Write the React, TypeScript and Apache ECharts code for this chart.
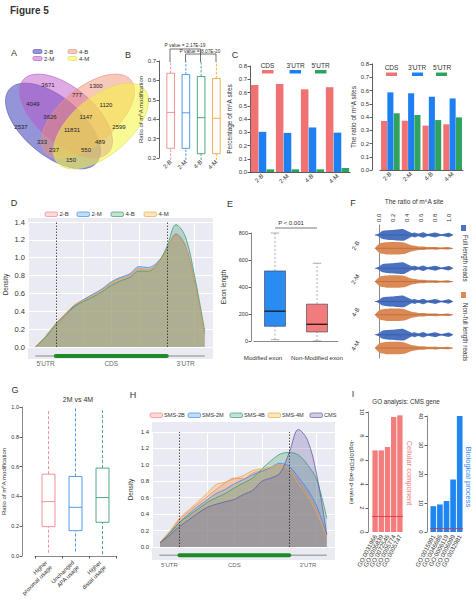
import React, { useEffect, useRef } from 'react';
import * as echarts from 'echarts';

const FONT = "'Liberation Sans', Arial, Helvetica, sans-serif";
const INK = '#333333';

/* ======================= DATA ======================= */
// A — Venn diagram of m6A sites
const vennSets = ['2-B', '2-M', '4-B', '4-M'];
// region order: 2B only, 2M only, 4B only, 4M only, 2B∩2M, 2M∩4B, 4B∩4M, 2B∩4M, 2B∩4B, 2M∩4M,
// 2B∩2M∩4B, 2M∩4B∩4M, 2B∩4B∩4M, 2B∩2M∩4M, all four
const vennCounts = [2537, 3671, 1300, 2599, 4049, 777, 1120, 150, 333, 489, 3626, 1147, 237, 550, 11831];

// B — ratio of m6A modification (min, Q1, median, Q3, max)
const sampleNames = ['2-B', '2-M', '4-B', '4-M'];
const ratio2B = [0.19, 0.25, 0.435, 0.637, 0.7];
const ratio2M = [0.19, 0.25, 0.433, 0.63, 0.7];
const ratio4B = [0.19, 0.222, 0.408, 0.62, 0.7];
const ratio4M = [0.19, 0.222, 0.405, 0.61, 0.7];
const pValueLabels = ['P value = 2.17E-19', 'P value = 8.07E-20'];

// C — region distribution
const regionNames = ['CDS', "3'UTR", "5'UTR"];
const pctCDS = [0.657, 0.664, 0.624, 0.64];
const pct3UTR = [0.303, 0.295, 0.336, 0.297];
const pct5UTR = [0.02, 0.02, 0.02, 0.03];
const ratioCDS = [0.37, 0.372, 0.335, 0.345];
const ratio3UTR = [0.586, 0.579, 0.553, 0.54];
const ratio5UTR = [0.428, 0.415, 0.377, 0.397];

// D — metagene density
const metaX = [4, 10, 15, 20, 25, 30, 35, 40, 45, 50, 55, 60, 65, 70, 75, 80, 85, 90, 95.5];
const dens2B = [0.0, 0.13, 0.26, 0.37, 0.47, 0.53, 0.585, 0.64, 0.72, 0.77, 0.81, 0.88, 0.87, 0.94, 1.09, 1.27, 1.14, 0.74, 0.15];
const dens2M = [0.0, 0.13, 0.26, 0.36, 0.46, 0.53, 0.59, 0.65, 0.73, 0.78, 0.82, 0.9, 0.89, 0.95, 1.09, 1.26, 1.13, 0.73, 0.15];
const dens4B = [0.0, 0.12, 0.25, 0.35, 0.45, 0.51, 0.56, 0.62, 0.69, 0.74, 0.78, 0.85, 0.85, 0.93, 1.12, 1.37, 1.24, 0.8, 0.18];
const dens4M = [0.0, 0.13, 0.26, 0.36, 0.47, 0.52, 0.575, 0.63, 0.71, 0.76, 0.8, 0.87, 0.86, 0.93, 1.08, 1.25, 1.12, 0.72, 0.15];
const geneModel = [4, 15, 75, 95.5]; // tx start, CDS start, CDS end, tx end
const geneRegions = ["5'UTR", 'CDS', "3'UTR"];
const densityTicks = [0, 1.4, 0.2];

// E — exon length (min, Q1, median, Q3, max)
const exonGroups = ['Modified exon', 'Non-Modified exon'];
const exonModified = [10, 109, 221, 519, 800];
const exonNonModified = [0, 67, 124, 273, 576];

// F — violin of m6A site ratio
const violinGroups = ['2-B', '2-M', '4-B', '4-M'];
const readTypes = ['Full length reads', 'Non-full length reads'];
const violinGrid = [-0.06, -0.01, 0.04, 0.11, 0.18, 0.27, 0.35, 0.42, 0.47, 0.51, 0.56, 0.63, 0.7, 0.8, 0.89, 1.0, 1.06];
const fullReadsDensity = [0, 0.2, 0.6, 0.74, 0.8, 0.88, 0.92, 0.55, 0.3, 0.4, 0.22, 0.45, 0.17, 0.38, 0.12, 0.34, 0];
const nonFullReadsDensity = [0, 0.6, 0.88, 0.97, 1.0, 1.0, 0.92, 0.65, 0.47, 0.38, 0.3, 0.28, 0.2, 0.22, 0.14, 0.18, 0];

// G — APA usage (min, Q1, median, Q3, max)
const apaGroups = ['Higher\nproximal usage', 'Unchanged\nAPA usage', 'Higher\ndistal usage'];
const apaProximal = [0.022, 0.197, 0.365, 0.549, 0.978];
const apaUnchanged = [0.03, 0.17, 0.327, 0.534, 0.993];
const apaDistal = [0.013, 0.226, 0.392, 0.59, 0.978];

// H — SMS / CMS density
const hNames = ['SMS-2B', 'SMS-2M', 'SMS-4B', 'SMS-4M', 'CMS'];
const hX = [4.4, 10, 15, 20, 25, 30, 35, 40, 45, 50, 55, 60, 65, 70, 75, 80, 85, 90, 95.5];
const densSMS2B = [0.06, 0.19, 0.33, 0.43, 0.52, 0.61, 0.7, 0.78, 0.84, 0.83, 0.9, 0.93, 0.96, 1.0, 0.96, 0.82, 0.66, 0.45, 0.12];
const densSMS2M = [0.05, 0.18, 0.3, 0.4, 0.49, 0.57, 0.65, 0.7, 0.77, 0.82, 0.88, 0.92, 0.97, 1.02, 0.98, 0.85, 0.7, 0.5, 0.15];
const densSMS4B = [0.05, 0.17, 0.3, 0.38, 0.46, 0.54, 0.6, 0.65, 0.72, 0.78, 0.84, 0.95, 1.05, 1.13, 1.15, 1.12, 1.0, 0.82, 0.35];
const densSMS4M = [0.06, 0.2, 0.35, 0.45, 0.55, 0.65, 0.76, 0.79, 0.83, 0.87, 0.93, 0.95, 0.97, 0.99, 0.94, 0.77, 0.62, 0.42, 0.12];
const densCMS = [0.05, 0.15, 0.25, 0.33, 0.41, 0.48, 0.52, 0.55, 0.58, 0.64, 0.69, 0.8, 0.84, 0.9, 1.15, 1.43, 1.3, 0.88, 0.15];

// I — GO analysis
const ccTerms = ['GO:0031966', 'GO:0005839', 'GO:0072546', 'GO:0005774', 'GO:0005747'];
const ccValues = [6.8, 6.8, 7.08, 9.58, 9.72];
const bpTerms = ['GO:0015991', 'GO:0046686', 'GO:0006119', 'GO:0006099', 'GO:0032981'];
const bpValues = [8.9, 9.5, 10.7, 18.1, 40.0];
const pThreshold = 1.3;

/* ======================= STYLE / LAYOUT ======================= */
const C_PINK = '#ee868b';
const C_BLUE = '#3d8ee6';
const C_GREEN = '#3a9e6e';
const C_ORANGE = '#efa93c';
const C_PURPLE = '#6a5aa8';
const REGION_COLORS = ['#f07272', '#1c7ff2', '#2ea25f'];
const VENN_FILL = ['rgba(50,50,180,0.52)', 'rgba(185,80,200,0.48)', 'rgba(240,140,110,0.48)', 'rgba(245,245,60,0.55)'];
const VENN_STROKE = ['#6060b8', '#b868c4', '#e49a88', '#dcdc70'];
const VENN_SHAPES = [
  { cx: 53, cy: 126, rx: 57, ry: 29, rot: -40 },
  { cx: 66, cy: 116, rx: 56, ry: 28, rot: -40 },
  { cx: 88, cy: 116, rx: 56, ry: 28, rot: 40 },
  { cx: 101, cy: 126, rx: 57, ry: 29, rot: 40 },
];
const VENN_LABEL_POS = [
  [21, 127], [48, 85], [96, 86], [119, 127], [33, 104], [77, 95], [106, 105], [71, 160],
  [42, 142], [100, 142], [50, 117], [86, 117], [54, 150], [86, 150], [72, 130],
];

const G = [
  { left: 163, top: 61, width: 61, height: 97 }, // 0 B
  { left: 250, top: 66, width: 100, height: 106 }, // 1 C left
  { left: 380, top: 64, width: 83, height: 106 }, // 2 C right
  { left: 28, top: 218, width: 185, height: 141 }, // 3 D bg
  { left: 28, top: 222, width: 185, height: 125 }, // 4 D curves
  { left: 254, top: 233, width: 84, height: 108 }, // 5 E
  { left: 379, top: 225, width: 70, height: 133 }, // 6 F
  { left: 35, top: 407, width: 81, height: 149 }, // 7 G
  { left: 152, top: 422, width: 183, height: 138 }, // 8 H bg
  { left: 152, top: 432, width: 183, height: 115 }, // 9 H curves
  { left: 372, top: 412, width: 31, height: 120 }, // 10 I left
  { left: 430, top: 416, width: 33, height: 116 }, // 11 I right
];

const axLine = { show: true, lineStyle: { color: INK, width: 0.8 } };
const axTick = { show: true, length: 2.5, lineStyle: { color: INK, width: 0.8 } };
const noSplit = { show: false };
const lbl = (fs: number, extra: any = {}) => ({ fontSize: fs, color: INK, fontFamily: FONT, margin: 3, ...extra });
const nameStyle = (fs: number) => ({ fontSize: fs, color: INK, fontFamily: FONT });

function txt(x: number, y: number, text: string, fs: number, extra: any = {}, rotation = 0): any {
  return {
    type: 'text', x, y, rotation, silent: true,
    style: {
      text, fontSize: fs, fontFamily: FONT, fill: INK,
      align: 'center', verticalAlign: 'middle', textAlign: 'center', textVerticalAlign: 'middle', ...extra,
    },
  };
}
function seg(x1: number, y1: number, x2: number, y2: number, stroke = INK, lw = 0.7): any {
  return { type: 'line', silent: true, shape: { x1, y1, x2, y2 }, style: { stroke, lineWidth: lw } };
}
function box(x: number, y: number, w: number, h: number, fill: string, stroke?: string, r = 0): any {
  return { type: 'rect', silent: true, shape: { x, y, width: w, height: h, r }, style: { fill, stroke: stroke || 'none', lineWidth: 0.7 } };
}
function hexA(hex: string, a: number) {
  const n = parseInt(hex.slice(1), 16);
  return `rgba(${(n >> 16) & 255},${(n >> 8) & 255},${n & 255},${a})`;
}

function boxSeries(ai: number, stats: number[][], cfg: any): any {
  return {
    type: 'custom', xAxisIndex: ai, yAxisIndex: ai, clip: false, silent: true,
    encode: { x: 0, y: [1, 2, 3, 4, 5] },
    data: stats.map((s, i) => [i, ...s]),
    renderItem: (_p: any, api: any) => {
      const i = api.value(0);
      const v = [1, 2, 3, 4, 5].map((k) => api.value(k));
      const cx = api.coord([i, v[2]])[0];
      const y = v.map((val) => api.coord([i, val])[1]);
      const w = api.size([1, 0])[0] * cfg.width;
      const col = cfg.colors[i];
      const wc = cfg.whisker || col;
      const ws = { stroke: wc, lineWidth: cfg.lw, lineDash: cfg.dash };
      const ch: any[] = [
        { type: 'line', shape: { x1: cx, y1: y[0], x2: cx, y2: y[1] }, style: ws },
        { type: 'line', shape: { x1: cx, y1: y[3], x2: cx, y2: y[4] }, style: ws },
        { type: 'rect', shape: { x: cx - w / 2, y: y[3], width: w, height: y[1] - y[3] }, style: { fill: cfg.fills ? cfg.fills[i] : '#fff', stroke: cfg.stroke || col, lineWidth: cfg.lw } },
        { type: 'line', shape: { x1: cx - w / 2, y1: y[2], x2: cx + w / 2, y2: y[2] }, style: { stroke: cfg.median || col, lineWidth: cfg.mw } },
      ];
      if (cfg.cap) {
        const cw = w * cfg.cap;
        ch.push({ type: 'line', shape: { x1: cx - cw / 2, y1: y[0], x2: cx + cw / 2, y2: y[0] }, style: { stroke: wc, lineWidth: cfg.lw } });
        ch.push({ type: 'line', shape: { x1: cx - cw / 2, y1: y[4], x2: cx + cw / 2, y2: y[4] }, style: { stroke: wc, lineWidth: cfg.lw } });
      }
      return { type: 'group', children: ch };
    },
  };
}

function densitySeries(ai: number, xs: number[], names: string[], ys: number[][], cols: string[], alpha: number): any[] {
  return names.map((name, k) => ({
    type: 'line', name, xAxisIndex: ai, yAxisIndex: ai, clip: false, silent: true,
    data: xs.map((x, i) => [x, ys[k][i]]),
    smooth: 0.35, symbol: 'none', showSymbol: false,
    lineStyle: { color: cols[k], width: 0.8 },
    areaStyle: { color: cols[k], opacity: alpha },
    markLine: k === 0 ? {
      symbol: 'none', silent: true, label: { show: false },
      lineStyle: { color: '#222', width: 0.8, type: [1.5, 1.5] },
      data: [{ xAxis: geneModel[1] }, { xAxis: geneModel[2] }],
    } : undefined,
  }));
}

function geneSeries(ai: number, barY: number, labelY: number, fs: number): any[] {
  return [
    { type: 'line', xAxisIndex: ai, yAxisIndex: ai, clip: false, silent: true, symbol: 'none',
      data: [[geneModel[0], barY], [geneModel[3], barY]], lineStyle: { color: '#a9a9a9', width: 1.6 } },
    { type: 'line', xAxisIndex: ai, yAxisIndex: ai, clip: false, silent: true, symbol: 'none',
      data: [[geneModel[1], barY], [geneModel[2], barY]], lineStyle: { color: '#1f8a2a', width: 4, cap: 'round' } },
    { type: 'scatter', xAxisIndex: ai, yAxisIndex: ai, clip: false, silent: true, symbolSize: 1,
      itemStyle: { color: 'transparent' },
      label: { show: true, position: 'inside', formatter: '{b}', fontSize: fs, color: INK, fontFamily: FONT },
      data: geneRegions.map((n, i) => ({ name: n, value: [(geneModel[i] + geneModel[i + 1]) / 2, labelY] })) },
  ];
}

function densityAxes(ai: number, fs: number, nameGap: number) {
  const x = {
    type: 'value', gridIndex: ai, min: 0, max: 100, interval: 15,
    axisLine: { show: false }, axisTick: { show: false }, axisLabel: { show: false },
    splitLine: { show: true, lineStyle: { color: '#ffffff', width: 1 } },
  };
  const y = {
    type: 'value', gridIndex: ai, min: densityTicks[0], max: densityTicks[1], interval: densityTicks[2],
    axisLine: { show: false }, axisTick: { show: false },
    axisLabel: lbl(fs, { margin: 3, formatter: (v: number) => v.toFixed(1) }),
    splitLine: { show: true, lineStyle: { color: '#ffffff', width: 1 } },
    name: 'Density', nameLocation: 'middle', nameGap, nameTextStyle: nameStyle(6.5),
  };
  return { x, y };
}

function hiddenAxes(ai: number) {
  return {
    x: { type: 'value', gridIndex: ai, min: 0, max: 1, show: false },
    y: { type: 'value', gridIndex: ai, min: 0, max: 1, show: false },
  };
}

function buildOption(): any {
  const grids = G.map((g, i) => ({
    ...g, containLabel: false, outerBoundsMode: 'none',
    show: i === 3 || i === 8, backgroundColor: '#eaeaf2', borderWidth: 0,
  }));

  const catX = (ai: number, data: any[], extra: any = {}) => ({
    type: 'category', gridIndex: ai, data,
    axisLine: { show: false }, axisTick: { show: false }, splitLine: noSplit,
    axisLabel: lbl(6, { interval: 0, rotate: 45 }), ...extra,
  });

  const dAx = densityAxes(4, 7.5, 19);
  const hAx = densityAxes(9, 6, 18);
  const dBg = hiddenAxes(3);
  const hBg = hiddenAxes(8);

  const exonLabelData = exonGroups.map((g, i) => (i === 0 ? { value: g, textStyle: { padding: [0, 24, 0, 0] } } : { value: g, textStyle: { padding: [0, 0, 0, 0] } }));

  const xAxis: any[] = [
    catX(0, sampleNames),
    catX(1, sampleNames, { axisLine: axLine }),
    catX(2, sampleNames, { axisLine: axLine }),
    dBg.x,
    dAx.x,
    catX(5, exonLabelData, { axisLine: { ...axLine, lineStyle: { color: '#555', width: 0.7 } }, offset: 7, axisTick: { show: false }, axisLabel: lbl(6.2, { interval: 0, margin: 6 }) }),
    { type: 'value', gridIndex: 6, position: 'top', min: 0, max: 1, interval: 0.2,
      axisLine: { show: false }, axisTick: { show: false }, splitLine: noSplit,
      axisLabel: lbl(6, { rotate: -90, margin: 3, formatter: (v: number) => v.toFixed(1) }),
      name: 'The ratio of m⁶A site', nameLocation: 'middle', nameGap: 20, nameTextStyle: nameStyle(6.5) },
    catX(7, apaGroups, { axisLine: { ...axLine, lineStyle: { color: '#555', width: 0.7 } }, offset: 4, axisTick: { ...axTick, length: 2.5 }, axisLabel: lbl(5.8, { interval: 0, rotate: 45, lineHeight: 6.8, margin: 4 }) }),
    hBg.x,
    hAx.x,
    catX(10, ccTerms, { axisLabel: lbl(6.2, { interval: 0, rotate: 62, margin: 3 }) }),
    catX(11, bpTerms, { axisLabel: lbl(6.2, { interval: 0, rotate: 62, margin: 3 }) }),
  ];

  const valY = (ai: number, min: number, max: number, interval: number, extra: any = {}) => ({
    type: 'value', gridIndex: ai, min, max, interval,
    axisLine: axLine, axisTick: axTick, splitLine: noSplit,
    axisLabel: lbl(6), ...extra,
  });

  const yAxis: any[] = [
    valY(0, 0.2, 0.7, 0.1, { offset: 4, axisLabel: lbl(6, { formatter: (v: number) => v.toFixed(1) }),
      name: 'Ratio of m⁶A modification', nameLocation: 'middle', nameGap: 13, nameTextStyle: nameStyle(6) }),
    valY(1, 0, 0.8, 0.1, { axisLabel: lbl(6, { formatter: (v: number) => v.toFixed(1) }),
      name: 'Percentage of m⁶A sites', nameLocation: 'middle', nameGap: 17, nameTextStyle: nameStyle(6.5) }),
    valY(2, 0, 0.8, 0.1, { offset: 8, axisLabel: lbl(6, { formatter: (v: number) => v.toFixed(1) }),
      name: 'The ratio of m⁶A sites', nameLocation: 'middle', nameGap: 14, nameTextStyle: nameStyle(6.5) }),
    dBg.y,
    dAx.y,
    valY(5, 0, 800, 200, { offset: 3, axisLine: { ...axLine, lineStyle: { color: '#555', width: 0.7 } }, axisLabel: lbl(5.5),
      name: 'Exon length', nameLocation: 'middle', nameGap: 24, nameTextStyle: nameStyle(6.5) }),
    { type: 'category', gridIndex: 6, data: violinGroups, inverse: true, offset: 18,
      axisLine: { ...axLine, lineStyle: { color: '#555', width: 0.7 } }, axisTick: { show: false }, splitLine: noSplit,
      axisLabel: lbl(6, { rotate: 60, margin: 3 }) },
    valY(7, 0, 1, 0.2, { offset: 13, axisLine: { ...axLine, lineStyle: { color: '#555', width: 0.7 } }, axisLabel: lbl(5.5, { formatter: (v: number) => v.toFixed(1) }),
      name: 'Ratio of m⁶A modification', nameLocation: 'middle', nameGap: 14, nameTextStyle: nameStyle(6) }),
    hBg.y,
    hAx.y,
    valY(10, 0, 10, 2, { offset: 4, axisLine: { ...axLine, lineStyle: { color: '#555', width: 0.7 } }, axisLabel: lbl(6, { rotate: -90, margin: 3 }),
      name: '-log10(FDR-adj p-value)', nameLocation: 'middle', nameRotate: -90, nameGap: 13, nameTextStyle: nameStyle(6) }),
    valY(11, 0, 40, 10, { offset: 3, axisLine: { ...axLine, lineStyle: { color: '#555', width: 0.7 } }, axisLabel: lbl(6, { rotate: -90, margin: 3 }) }),
  ];

  const series: any[] = [];

  // B
  series.push(boxSeries(0, [ratio2B, ratio2M, ratio4B, ratio4M], {
    colors: [C_PINK, C_BLUE, C_GREEN, C_ORANGE], width: 0.5, lw: 0.9, mw: 0.9, dash: [2.5, 1.5],
  }));

  // C
  const pct = [pctCDS, pct3UTR, pct5UTR];
  const rat = [ratioCDS, ratio3UTR, ratio5UTR];
  regionNames.forEach((n, k) => {
    series.push({ type: 'bar', name: n, xAxisIndex: 1, yAxisIndex: 1, data: pct[k], silent: true,
      itemStyle: { color: REGION_COLORS[k] }, barGap: '4%', barCategoryGap: '7%' });
  });
  regionNames.forEach((n, k) => {
    series.push({ type: 'bar', name: n, xAxisIndex: 2, yAxisIndex: 2, data: rat[k], silent: true,
      itemStyle: { color: REGION_COLORS[k] }, barGap: '4%', barCategoryGap: '10%' });
  });

  // D
  series.push(...densitySeries(4, metaX, sampleNames, [dens2B, dens2M, dens4B, dens4M], [C_PINK, C_BLUE, C_GREEN, C_ORANGE], 0.3));
  series.push(...geneSeries(4, -0.1, -0.19, 6.5));

  // E
  series.push(boxSeries(5, [exonModified, exonNonModified], {
    colors: ['#2a8cf0', '#f27c7c'], fills: ['#2a8cf0', '#f27c7c'], stroke: '#3a3a4a', median: '#111',
    whisker: '#777', width: 0.5, lw: 0.6, mw: 1.2, dash: [2, 2], cap: 0.4,
  }));

  // F
  series.push({
    type: 'custom', xAxisIndex: 6, yAxisIndex: 6, clip: false, silent: true,
    encode: { x: 0, y: 1 },
    data: violinGroups.flatMap((_, gi) => readTypes.map((__, ti) => [0.5, gi, ti])),
    renderItem: (_p: any, api: any) => {
      const gi = api.value(1);
      const ti = api.value(2);
      const prof = ti === 0 ? fullReadsDensity : nonFullReadsDensity;
      const band = api.size([0, 1])[1];
      const cy = api.coord([0, gi])[1] + (ti === 0 ? -0.2 : 0.2) * band;
      const maxH = band * 0.19;
      const top = violinGrid.map((v, k) => [api.coord([v, gi])[0], cy - prof[k] * maxH]);
      const bot = violinGrid.map((v, k) => [api.coord([v, gi])[0], cy + prof[k] * maxH]).reverse();
      const fill = ti === 0 ? '#4a72c0' : '#dc8a55';
      return {
        type: 'group', children: [
          { type: 'polygon', shape: { points: top.concat(bot), smooth: 0.2 }, style: { fill } },
          { type: 'line', shape: { x1: api.coord([violinGrid[0], gi])[0], y1: cy, x2: api.coord([violinGrid[violinGrid.length - 1], gi])[0], y2: cy },
            style: { stroke: ti === 0 ? '#2f4f8f' : '#9a5a35', lineWidth: 0.5 } },
        ],
      };
    },
  });

  // G
  series.push(boxSeries(7, [apaProximal, apaUnchanged, apaDistal], {
    colors: [C_PINK, C_BLUE, C_GREEN], width: 0.48, lw: 0.9, mw: 0.9, dash: [3, 2],
  }));

  // H
  series.push(...densitySeries(9, hX, hNames, [densSMS2B, densSMS2M, densSMS4B, densSMS4M, densCMS], [C_PINK, C_BLUE, C_GREEN, C_ORANGE, C_PURPLE], 0.27));
  series.push(...geneSeries(9, -0.1, -0.22, 6));

  // I
  const mk = { symbol: 'none', silent: true, label: { show: false }, lineStyle: { color: '#e0303a', width: 0.8, type: 'solid' }, data: [{ yAxis: pThreshold }] };
  series.push({ type: 'bar', xAxisIndex: 10, yAxisIndex: 10, data: ccValues, silent: true, itemStyle: { color: '#f27d7d' }, barCategoryGap: '14%', markLine: mk });
  series.push({ type: 'bar', xAxisIndex: 11, yAxisIndex: 11, data: bpValues, silent: true, itemStyle: { color: '#1f86f0' }, barCategoryGap: '14%', markLine: mk });

  /* ---------- graphic ---------- */
  const gfx: any[] = [];
  gfx.push(txt(10, 10, 'Figure 5', 10, { fontWeight: 'bold', align: 'left', textAlign: 'left' }));
  const letters: [string, number, number][] = [
    ['A', 14, 53], ['B', 128, 55], ['C', 235, 55], ['D', 14, 203], ['E', 230, 204],
    ['F', 353, 203], ['G', 15, 390], ['H', 133, 395], ['I', 353, 394],
  ];
  letters.forEach(([t, x, y]) => gfx.push(txt(x, y, t, 9)));

  // Venn
  VENN_SHAPES.forEach((e, i) => gfx.push({
    type: 'ellipse', x: e.cx, y: e.cy, rotation: (e.rot * Math.PI) / 180, silent: true,
    shape: { cx: 0, cy: 0, rx: e.rx, ry: e.ry },
    style: { fill: VENN_FILL[i], stroke: VENN_STROKE[i], lineWidth: 0.6 },
  }));
  vennCounts.forEach((c, i) => gfx.push(txt(VENN_LABEL_POS[i][0], VENN_LABEL_POS[i][1], String(c), 6, { fill: '#222' })));
  const vennLeg: [number, number][] = [[33, 49.5], [33, 56.5], [68, 49.5], [68, 56.5]];
  [0, 1, 2, 3].forEach((i) => {
    gfx.push(box(vennLeg[i][0], vennLeg[i][1], 9, 4, VENN_FILL[i], VENN_STROKE[i], 1.5));
    gfx.push(txt(vennLeg[i][0] + 11, vennLeg[i][1] + 2, vennSets[i], 6, { align: 'left', textAlign: 'left' }));
  });

  // B p-value brackets
  gfx.push(seg(170, 49, 200.5, 49), seg(170, 49, 170, 62), seg(200.5, 49, 200.5, 62));
  gfx.push(seg(185.5, 54, 216, 54), seg(185.5, 54, 185.5, 62), seg(216, 54, 216, 62));
  gfx.push(txt(185, 45.5, pValueLabels[0], 4.8));
  gfx.push(txt(200, 51, pValueLabels[1], 4.8));

  // C legends (text above, swatch below)
  const cLeg1: [number, number][] = [[267.5, 262], [295.5, 289.5], [320.5, 315]];
  const cLeg2: [number, number][] = [[391.5, 386], [417, 412], [442, 436]];
  regionNames.forEach((n, k) => {
    gfx.push(txt(cLeg1[k][0], 65, n, 6.5));
    gfx.push(box(cLeg1[k][1], 70, 11.5, 3.5, REGION_COLORS[k]));
    gfx.push(txt(cLeg2[k][0], 67, n, 6.5));
    gfx.push(box(cLeg2[k][1], 72.5, 11, 3.5, REGION_COLORS[k]));
  });

  // D legend
  const dLegX = [45, 77, 111, 144];
  const dCols = [C_PINK, C_BLUE, C_GREEN, C_ORANGE];
  sampleNames.forEach((n, k) => {
    gfx.push(box(dLegX[k], 212, 12.5, 4.5, hexA(dCols[k], 0.3), dCols[k], 1.5));
    gfx.push(txt(dLegX[k] + 14.5, 214.3, n, 6, { align: 'left', textAlign: 'left' }));
  });

  // E p-value
  gfx.push(seg(275, 228, 317, 228, '#444', 0.7));
  gfx.push(txt(291, 223, 'P < 0.001', 6));

  // F legend
  gfx.push(box(461, 225, 5, 6, '#4a72c0'));
  gfx.push(txt(465, 235, readTypes[0], 6.3, { align: 'left', textAlign: 'left' }, -Math.PI / 2));
  gfx.push(box(461, 292, 5, 6, '#dc8a55'));
  gfx.push(txt(465, 303, readTypes[1], 6.3, { align: 'left', textAlign: 'left' }, -Math.PI / 2));

  // G title
  gfx.push(txt(78, 399, '2M vs 4M', 7));

  // H legend
  const hLegX = [150, 188, 230, 268, 310];
  const hCols = [C_PINK, C_BLUE, C_GREEN, C_ORANGE, C_PURPLE];
  hNames.forEach((n, k) => {
    gfx.push(box(hLegX[k], 413, 12.5, 4.5, hexA(hCols[k], 0.3), hCols[k], 1.5));
    gfx.push(txt(hLegX[k] + 14, 415.3, n, 5.6, { align: 'left', textAlign: 'left' }));
  });

  // I
  gfx.push(txt(406, 401, 'GO analysis: CMS gene', 6.3));
  gfx.push(txt(409, 473, 'Cellular component', 7.5, { fill: '#f27d7d' }, -Math.PI / 2));
  gfx.push(txt(468, 477, 'Biological process', 7.5, { fill: '#1f86f0' }, -Math.PI / 2));

  return {
    animation: false,
    backgroundColor: '#ffffff',
    textStyle: { fontFamily: FONT },
    grid: grids,
    xAxis,
    yAxis,
    series,
    graphic: { elements: gfx },
  };
}

export default function App() {
  const ref = useRef<HTMLDivElement>(null);
  useEffect(() => {
    if (!ref.current) return;
    const chart = echarts.init(ref.current, null, { renderer: 'svg' });
    chart.setOption(buildOption());
    return () => chart.dispose();
  }, []);
  return (
    <div
      ref={ref}
      style={{ position: 'absolute', left: 0, top: 0, width: 474, height: 603, background: '#ffffff' }}
    />
  );
}
